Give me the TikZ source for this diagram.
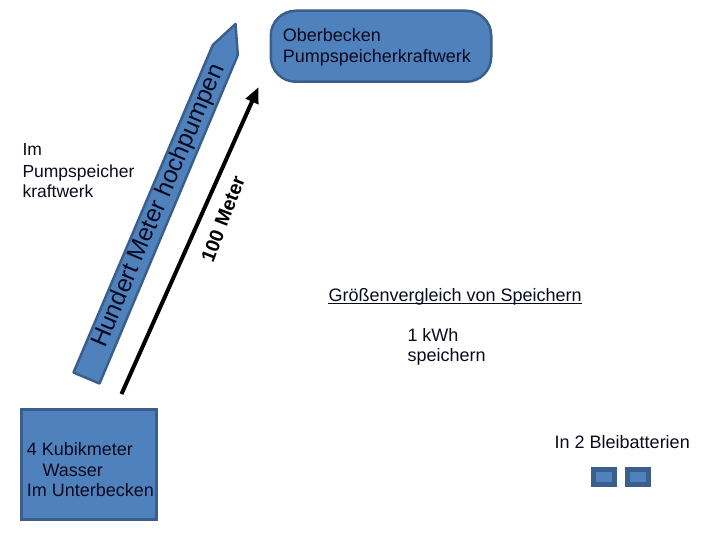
\documentclass[tikz,border=0pt]{standalone}
\usepackage{fontspec}
\setmainfont{Liberation Sans}
\usetikzlibrary{arrows.meta}
\definecolor{boxfill}{HTML}{4F81BD}
\definecolor{boxedge}{HTML}{3A5F8C}
\definecolor{inktext}{HTML}{0A0A1E}
\begin{document}
\begin{tikzpicture}[x=1pt,y=-1pt,
  shapefill/.style={fill=boxfill, draw=boxedge, line width=2.5pt},
  lbl/.style={inner sep=0pt, anchor=base west, text=inktext},
  fnorm/.style={font=\fontsize{18}{21}\selectfont},
  fsmall/.style={font=\fontsize{17.5}{21}\selectfont},
  battery/.style={fill=boxfill, draw=boxedge, line width=5pt, minimum width=20.7pt, minimum height=15pt, inner sep=0pt}]
\useasboundingbox (0,0) rectangle (720,540);

% upper basin
\node[shapefill, rounded corners=25pt, minimum width=220.5pt, minimum height=71pt, inner sep=0pt, anchor=north west] (ober) at (269.5,9.5) {};
\node[lbl, fnorm] (obertA) at (282.7,41.7) {Oberbecken};
\node[lbl, fnorm] (obertB) at (282.7,63) {Pumpspeicherkraftwerk};

% lower basin
\node[shapefill, line width=3pt, minimum width=135.4pt, minimum height=109.3pt, inner sep=0pt, anchor=north west] (unter) at (19.8,408.2) {};
\node[lbl, fnorm] (untA) at (26.7,455) {4 Kubikmeter};
\node[lbl, fnorm] (untB) at (42.3,476.7) {Wasser};
\node[lbl, fnorm] (untC) at (26.7,496.7) {Im Unterbecken};

% slanted pump arrow shape
\draw[shapefill, line join=round] (73.5,372.5) -- (99.5,383.5) -- (237.8,55) -- (235.5,24) -- (212.8,45) -- cycle;
\node[inner sep=0pt, rotate=67, text=inktext, font=\fontsize{24.5}{28}\selectfont] (pumptext) at (159,206) {Hundert Meter hochpumpen};

% black arrow
\coordinate (arrA) at (121.5,394);
\coordinate (arrB) at (258.5,87);
\draw[line width=4pt, -{Triangle[length=16pt,width=13pt]}] (arrA) -- (arrB);
\node[inner sep=0pt, rotate=69, text=black, font=\bfseries\fontsize{19.5}{22}\selectfont] (hm) at (223,219) {100 Meter};

% left label
\node[lbl, fsmall] (imA) at (22.3,156) {Im};
\node[lbl, fsmall] (imB) at (22.3,177.5) {Pumpspeicher};
\node[lbl, fsmall] (imC) at (22.3,198) {kraftwerk};

% comparison
\node[lbl, fnorm] (gv) at (328.3,301) {Größenvergleich von Speichern};
\draw[line width=1.3pt, inktext] ([yshift=-2.5pt]gv.base west) -- ([yshift=-2.5pt]gv.base east);
\node[lbl, fnorm] (kwhA) at (407.3,341.7) {1 kWh};
\node[lbl, fnorm] (kwhB) at (407.3,361.7) {speichern};

\node[lbl, fnorm] (blei) at (554.5,448.3) {In 2 Bleibatterien};
\node[battery] (batA) at (603.9,476.7) {};
\node[battery] (batB) at (637.9,476.7) {};
\end{tikzpicture}
\end{document}
